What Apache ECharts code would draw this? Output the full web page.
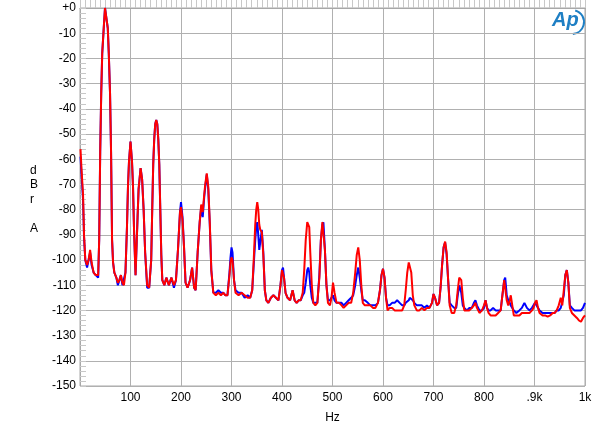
<!DOCTYPE html>
<html><head><meta charset="utf-8">
<script src="https://cdn.jsdelivr.net/npm/echarts@6/dist/echarts.min.js"></script>
<style>html,body{margin:0;padding:0;background:#fff}#c{width:600px;height:429px}</style>
</head><body><div id="c"></div>
<script>
const freqs = [1,3,6,8,10.5,14,17,20,23,27,31,36,38,40,42,44,47,49.5,52.5,55,57,59.5,61.5,63.5,65.5,68,72,75,78,81,84,87,90,93,95,97,100,103,105,107,110,114,116,120,123,126,129,133,137,141,143,145,147,149,151,153,155,157,159,161,163,167,171,176,181,186,190,194,198,200,203,206,209,213,218,222,226,229,233,237,240,243,246,248,251,254,257,260,264,269,274,279,284,288,292,296,298,300,302,305,308,314,320,326,332,337,341,344,347,349,351,353,355,357,360,363,366,369,373,378,383,388,393,397,400,402,404,407,411,416,421,425,429,433,437,441,444,447,450,452,454,456,459,462,466,470,474,477,480,482,485,488,491,495,498,501,504,508,513,518,522,527,532,537,541,545,548,551,554,557,560,564,570,575,580,585,590,594,597,600,603,606,609,613,618,623,628,633,638,642,645,648,651,653,656,659,662,667,672,677,682,687,692,697,700,703,707,711,714,717,720,723,726,729,732,736,741,745,748,751,753,755,758,761,766,771,776,780,783,786,791,796,800,803,806,809,813,818,823,828,833,837,840,842,845,848,851,853,856,859,864,870,875,880,885,890,895,898,901,904,907,910,916,921,926,931,936,940,944,948,952,955,958,961,964,967,970,974,979,984,988,992,996,1000];
const redDb = [-56,-64,-74,-90,-100,-102,-100,-96,-101,-105,-106,-106,-92,-57,-34,-18,-8,0,0,-8,-18,-34,-57,-92,-101,-105,-107,-109,-108,-106,-109,-110,-105,-87,-71,-61,-53,-61,-71,-88,-106,-83,-72,-63.5,-68,-80,-97,-110,-111,-100,-80,-62,-52,-46,-44.4,-46,-52,-62,-80,-98,-108,-110,-107,-110,-107,-110,-108,-96,-81,-79,-84,-95,-109,-111,-108,-103,-111,-112,-97,-85,-78,-81,-74,-70,-65.6,-71,-85,-104,-113,-114,-113,-114,-113,-114,-114,-106,-101,-99,-100,-108,-113,-114,-113,-114,-115,-115,-112,-100,-86,-80,-77,-80,-86,-88,-89,-98,-112,-116,-117,-115,-114,-115,-116,-110,-104,-103.5,-107,-113,-115,-116,-112,-116,-117,-116,-116,-113,-104,-92,-85,-84.4,-87,-97,-110,-117,-118,-117,-107,-92,-85,-85,-96,-110,-117,-118,-115,-109,-113,-117,-117,-118,-119,-118,-117,-117,-113,-105,-98,-95,-100,-110,-117,-118,-118,-118,-119,-119,-117,-112,-106,-103.5,-107,-115,-120,-119,-119,-120,-120,-120,-120,-118,-112,-105,-101,-100.5,-105,-114,-118,-120,-120,-119,-120,-119,-119,-117,-113.5,-115,-118,-117,-111,-102,-95,-92.7,-97,-108,-118,-121,-121,-118,-112,-107,-106.3,-108,-115,-120,-120,-120,-119,-118,-117,-119,-121,-120,-118,-116,-119,-121,-122,-122,-122,-121,-120,-113,-108,-107.7,-116,-118,-116,-114,-118,-122,-122,-122,-121,-121,-121,-121,-120,-119,-117,-116,-119,-121,-122,-122,-122.5,-122,-121,-121,-120,-118,-115,-118,-112,-106,-104,-109,-119,-121,-122,-123,-124,-124.5,-123,-122];
const blueDb = [-59,-66,-76,-91,-100,-103,-100,-97,-102,-105,-106,-107,-92,-57,-34,-18,-8,0,0,-8,-18,-34,-57,-92,-101,-105,-107,-110,-108,-106,-110,-110,-105,-87,-71,-61,-53,-61,-71,-88,-106,-83,-72,-63.5,-68,-80,-97,-111,-111,-100,-80,-62,-52,-46,-44.4,-46,-52,-62,-80,-98,-108,-110,-107,-110,-107,-111,-108,-96,-81,-77,-83,-95,-109,-111,-108,-103,-111,-112,-97,-85,-79,-83,-75,-71,-66,-72,-86,-104,-113,-113,-112,-113,-113,-114,-114,-105,-99,-95,-97,-108,-112,-113,-113,-115,-114,-115,-112,-102,-92,-87,-85,-90,-96,-96,-88,-97,-112,-116,-117,-115,-114,-115,-116,-110,-104,-103,-107,-113,-115,-116,-112,-116,-117,-116,-116,-114,-113,-109,-104,-103,-105,-110,-115,-117,-117,-117,-106,-92,-86,-85,-96,-110,-116,-116,-116,-114,-116,-117,-117,-117,-118,-117,-116,-115,-114,-110,-106,-103,-107,-112,-116,-116,-117,-118,-118,-118,-117,-112,-106,-103.5,-107,-115,-118,-118,-117,-117,-116,-117,-118,-118,-117,-117,-116,-115,-115,-116,-117,-118,-118,-118,-119,-118,-119,-117,-113.5,-115,-118,-117,-111,-102,-95,-93,-98,-108,-117,-118,-119,-119,-114,-110,-110.7,-113,-118,-119,-120,-119,-119,-117,-116,-118,-120,-120,-119,-116,-119,-120,-120,-119,-120,-120,-120,-113,-108,-107,-114,-116,-117,-118,-119,-120,-121,-120,-119,-117,-119,-120,-119,-118,-117,-116.5,-119,-120,-121,-121,-121,-121,-121,-121,-120,-120,-119,-119,-114,-106,-104,-109,-118,-119,-120,-120,-120,-120,-119,-117];
const yTicks = [0,-10,-20,-30,-40,-50,-60,-70,-80,-90,-100,-110,-120,-130,-140,-150];
const xTickLabels = {100:'100',200:'200',300:'300',400:'400',500:'500',600:'600',700:'700',800:'800',900:'.9k',1000:'1k'};
const yAxisLetters = ['d','B','r','','A'];

const chart = echarts.init(document.getElementById('c'), null, {renderer:'canvas'});
const font = 'Liberation Sans, Arial, sans-serif';
const pairs = arr => freqs.map((f,i)=>[f, arr[i]]);
chart.setOption({
  animation:false,
  backgroundColor:'#fff',
  grid:{left:80,right:15,top:8,bottom:43,show:true,borderColor:'#a8a8a8',borderWidth:1},
  xAxis:{type:'value',min:0,max:1000,interval:100,
    axisLine:{show:true,lineStyle:{color:'#a8a8a8'}},
    axisTick:{show:true,inside:true,length:13,lineStyle:{color:'#c8c8c8'}},
    minorTick:{show:true,splitNumber:10,length:13,lineStyle:{color:'#c8c8c8'}},
    splitLine:{show:true,lineStyle:{color:'#b0b0b0',width:1}},
    axisLabel:{color:'#000',fontFamily:font,fontSize:12,margin:6,
      formatter:v=>xTickLabels[v]||''},
    name:'Hz',nameLocation:'middle',nameGap:26,nameTextStyle:{color:'#000',fontFamily:font,fontSize:12}},
  yAxis:{type:'value',min:-150,max:0,interval:10,
    axisLine:{show:true,lineStyle:{color:'#a8a8a8'}},
    axisTick:{show:true,inside:true,length:6,lineStyle:{color:'#c8c8c8'}},
    minorTick:{show:true,splitNumber:5,length:6,lineStyle:{color:'#c8c8c8'}},
    splitLine:{show:true,lineStyle:{color:'#b0b0b0',width:1}},
    axisLabel:{color:'#000',fontFamily:font,fontSize:12,margin:4,
      formatter:v=> yTicks.includes(v) ? (v===0?'+0':String(v)) : ''}},
  graphic:[
    {type:'text',left:30,top:163,style:{text:yAxisLetters.join('\n'),font:'12px '+font,fill:'#000',lineHeight:14.5,align:'center'}},
    {type:'text',left:552,top:10,style:{text:'Ap',font:'italic bold 20px '+font,fill:'#1e7fc4'}},
    {type:'arc',shape:{cx:572,cy:22,r:12,startAngle:-1.3,endAngle:1.5},style:{stroke:'#1e7fc4',lineWidth:2,fill:null}}
  ],
  series:[
    {type:'line',data:pairs(blueDb),showSymbol:false,lineStyle:{color:'#0000ff',width:2},z:2},
    {type:'line',data:pairs(redDb),showSymbol:false,lineStyle:{color:'#ff0000',width:2},z:3}
  ]
});
</script></body></html>
